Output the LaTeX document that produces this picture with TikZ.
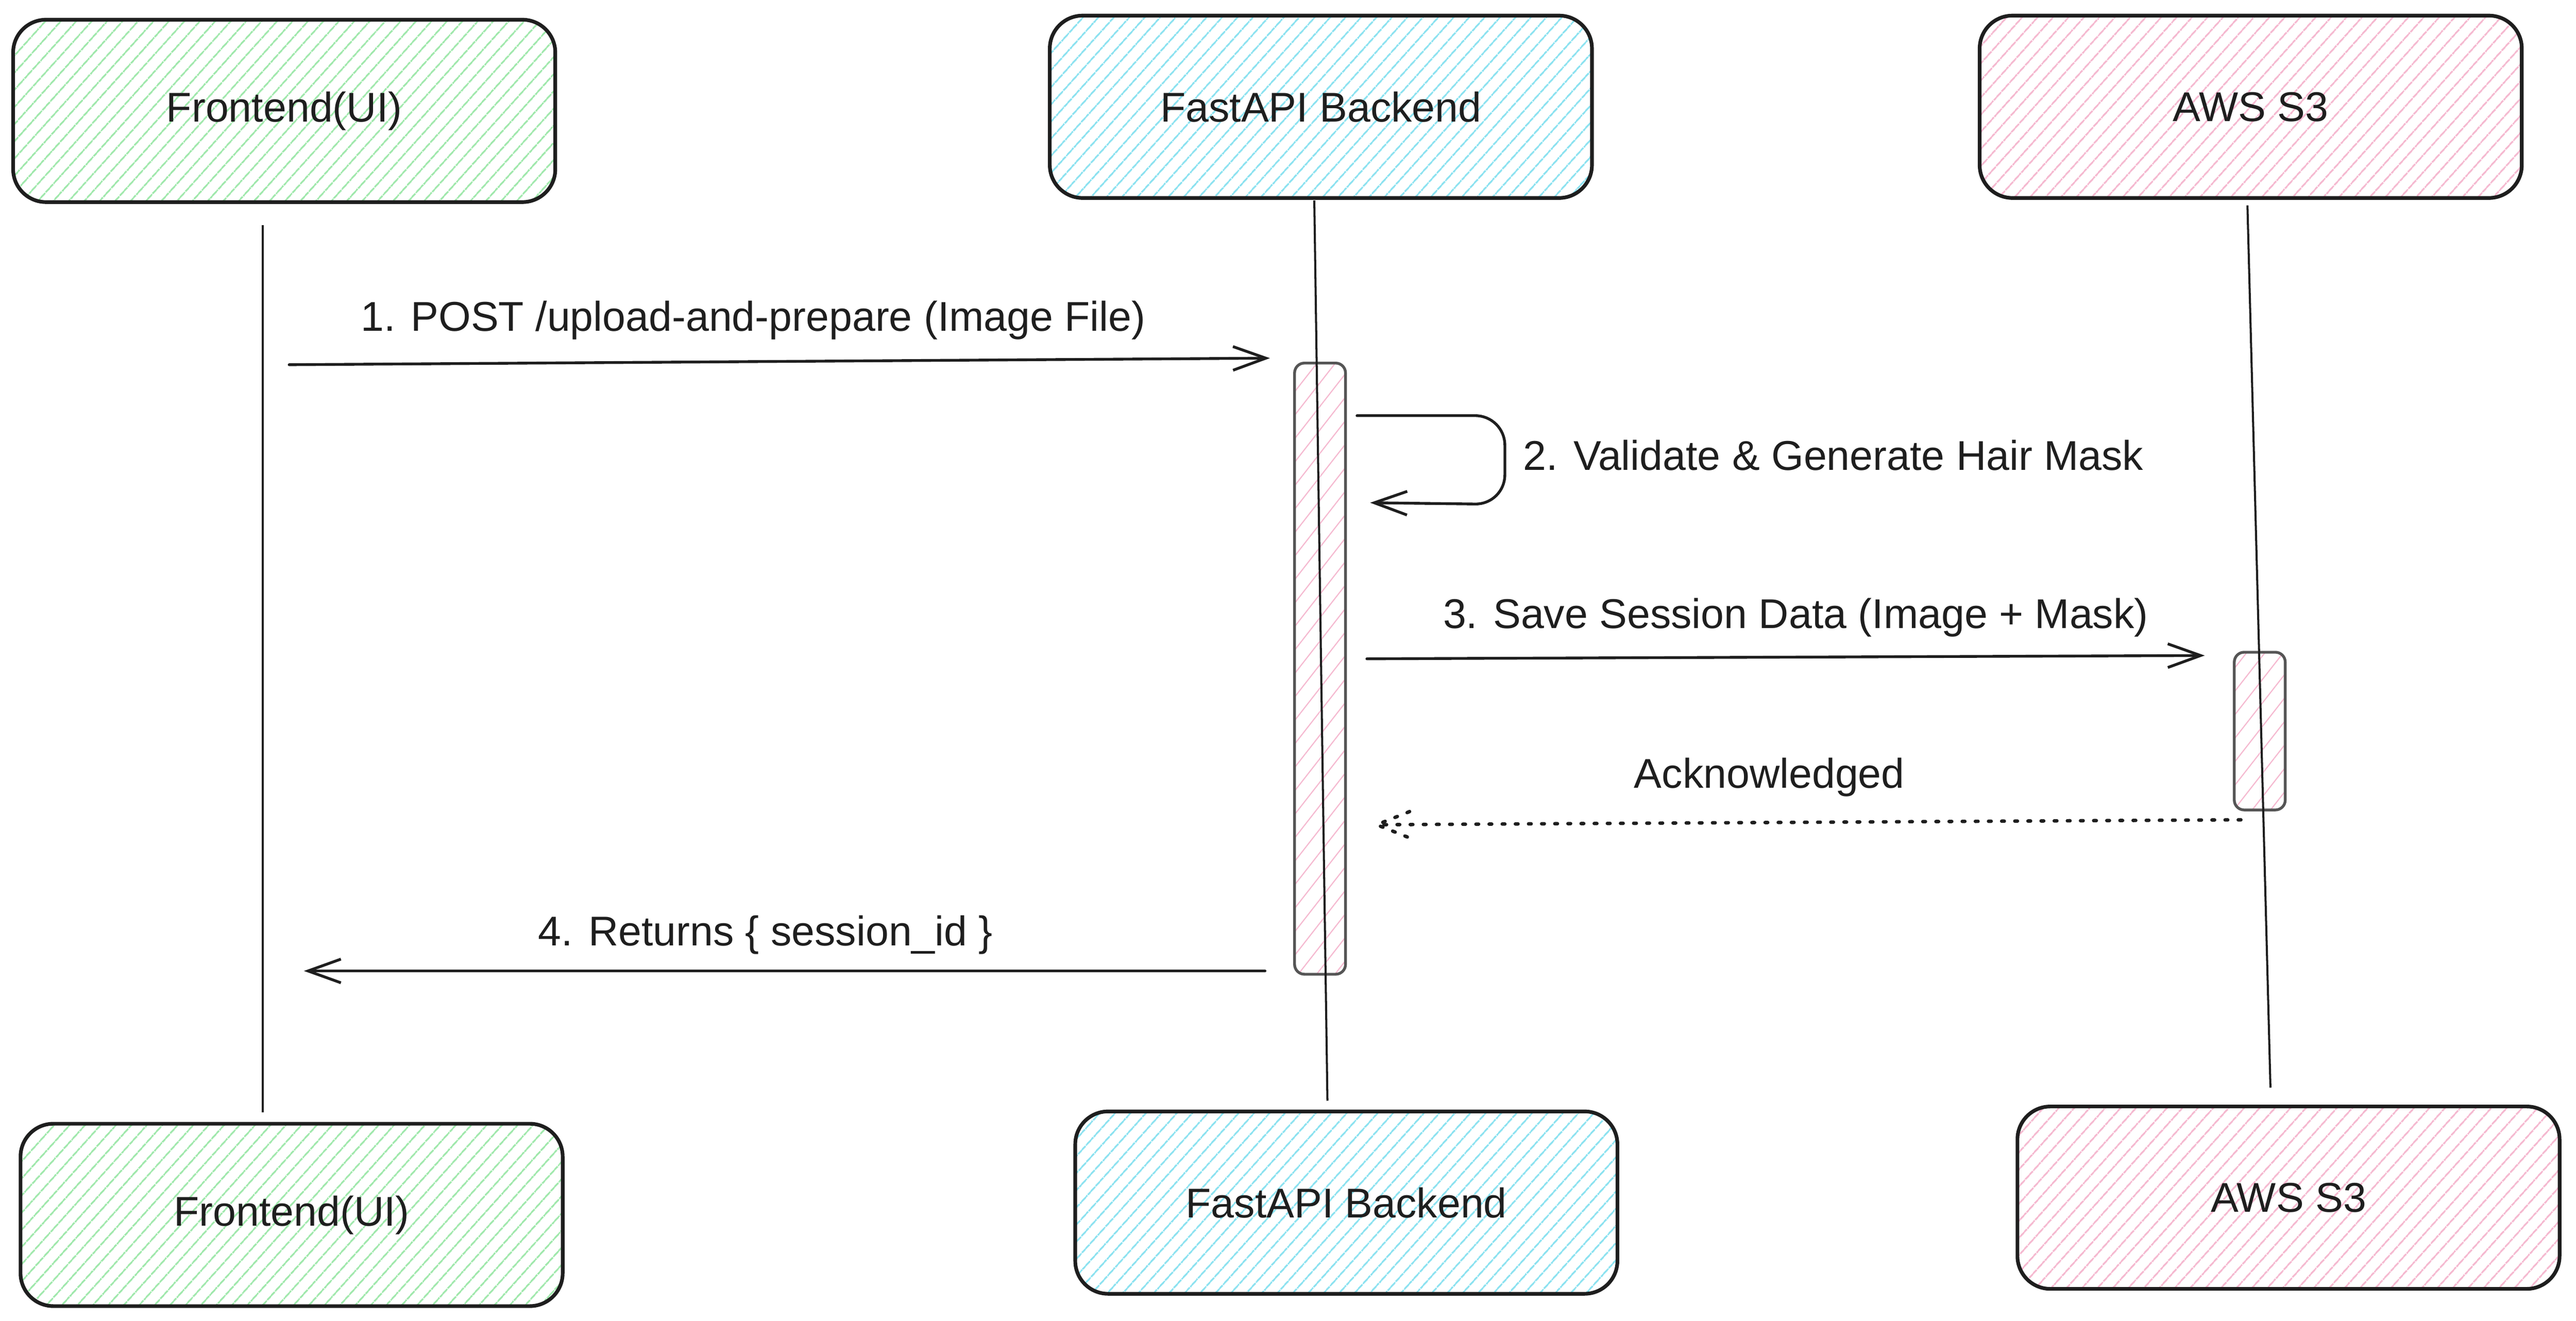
\documentclass[tikz,border=0pt]{standalone}
\usepackage{fontspec}
\setmainfont{Liberation Sans}
\usetikzlibrary{arrows.meta,patterns.meta,calc}
\definecolor{hgreen}{RGB}{160,232,172}
\definecolor{hcyan}{RGB}{140,226,240}
\definecolor{hpink}{RGB}{245,185,208}
\definecolor{ink}{RGB}{30,30,30}
\definecolor{bargray}{RGB}{85,85,85}
\begin{document}
\begin{tikzpicture}[x=0.25mm,y=-0.25mm,line join=round,>={Straight Barb[length=5mm,width=3.6mm]},
  actor/.style={draw=ink,line width=1.6pt,rounded corners=5mm,minimum width=82.5mm,minimum height=27.75mm,
    font=\fontsize{18}{22}\selectfont,text=ink,pattern={Lines[angle=48,distance=1.8mm,line width=0.8pt]},pattern color=#1},
  actbar/.style={draw=bargray,line width=1.2pt,rounded corners=1.5mm,minimum width=7.75mm,inner sep=0pt,
    pattern={Lines[angle=52,distance=2.2mm,line width=0.5pt]},pattern color=hpink},
  life/.style={ink,line width=0.9pt},
  msg/.style={ink,line width=1.2pt,line cap=round},
  dots/.style={msg,line width=1.5pt,dash pattern=on 0.4mm off 1.6mm},
  lbl/.style={font=\fontsize{18}{22}\selectfont,text=ink,inner sep=0pt}]
\useasboundingbox (0,0) rectangle (1568,804);

\node[actor=hgreen] (fe1) at (173,67.5) {Frontend(UI)};
\node[actor=hcyan] (api1) at (804,65) {FastAPI Backend};
\node[actor=hpink] (s31) at (1370,65) {AWS S3};
\node[actor=hgreen] (fe2) at (177.5,739.5) {Frontend(UI)};
\node[actor=hcyan] (api2) at (819.5,732) {FastAPI Backend};
\node[actor=hpink] (s32) at (1393,729) {AWS S3};

\node[actbar,minimum height=93mm] (apiact) at (803.5,407) {};
\node[actbar,minimum height=24mm] (s3act) at (1375.5,445) {};

    \coordinate (feA) at (160,137);
    \coordinate (feB) at (160,677);
    \coordinate (apiA) at (800,122);
    \coordinate (apiB) at (808,670);
    \coordinate (s3A) at (1368,125);
    \coordinate (s3B) at (1382,662);
\draw[life](feA)--(feB);
\draw[life](apiA)--(apiB);
\draw[life](s3A)--(s3B);

    \coordinate (m1s) at (176,222);
    \coordinate (m1e) at (773,218);
    \coordinate (m2s) at (826,253);
    \coordinate (m2e) at (834,306);
    \coordinate (m3s) at (832,401);
    \coordinate (m3e) at (1342,399);
    \coordinate (acks) at (1364,499);
    \coordinate (acke) at (838,502);
    \coordinate (m4s) at (770,591);
    \coordinate (m4e) at (185,591);
\draw[msg,->](m1s)--(m1e);
\draw[msg,->,rounded corners=4.5mm](m2s)--(916,253)--(916,307)--(m2e);
\draw[msg,->](m3s)--(m3e);
\draw[dots](acks)--(acke);
\draw[dots]($(acke)+(20,-8)$)--(acke)--($(acke)+(20,8)$);
\draw[msg,->](m4s)--(m4e);

\node[lbl] (t1) at (458.5,195) {1. POST /upload-and-prepare (Image File)};
\node[lbl,anchor=west] (t2) at (927,277) {2. Validate \& Generate Hair Mask};
\node[lbl] (t3) at (1093,376) {3. Save Session Data (Image + Mask)};
\node[lbl] (t4) at (1077,473) {Acknowledged};
\node[lbl] (t5) at (466,569) {4. Returns \{ session\_id \}};
\end{tikzpicture}
\end{document}
